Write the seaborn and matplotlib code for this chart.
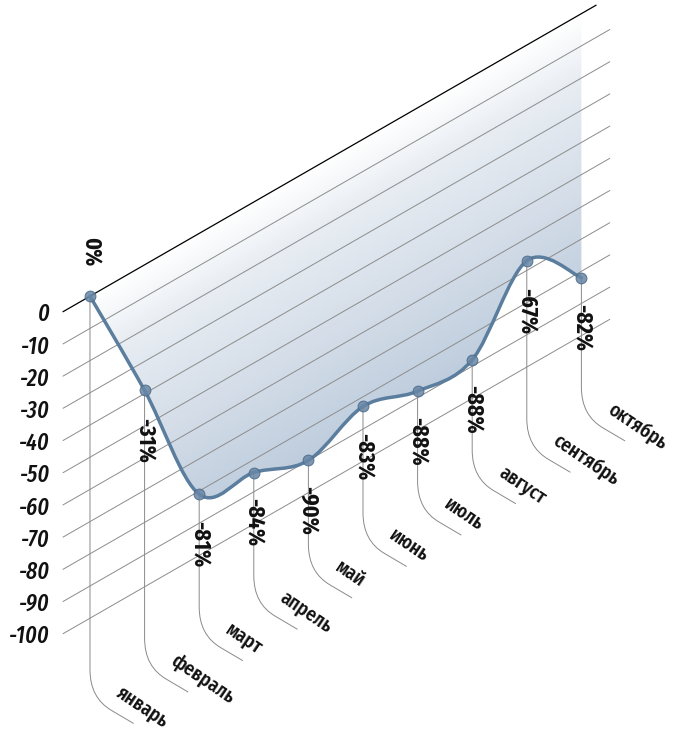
import numpy as np
import matplotlib
matplotlib.use('Agg')
import matplotlib.pyplot as plt
import matplotlib.transforms as mtransforms
from matplotlib.path import Path
from matplotlib.patches import PathPatch
from matplotlib.colors import LinearSegmentedColormap
import seaborn as sns

months = ['январь', 'февраль', 'март', 'апрель', 'май', 'июнь',
          'июль', 'август', 'сентябрь', 'октябрь']
values = [0, -39, -81, -84, -90, -83, -88, -88, -67, -82]
value_labels = ['0%', '-31%', '-81%', '-84%', '-90%', '-83%',
                '-88%', '-88%', '-67%', '-82%']
grid_values = [0, -10, -20, -30, -40, -50, -60, -70, -80, -90, -100]

sns.set_theme(style='white')
plt.rcParams['font.family'] = ['Fira Sans Extra Condensed', 'DejaVu Sans']

LINE = '#5b7d9e'
k = 9.75  # each month lifts the baseline by this many value units (isometric skew)
XLIM = (-1.648, 10.861)
YLIM = (-135.65, 91.99)

fig = plt.figure(figsize=(6.83, 7.33), dpi=100)
ax = fig.add_axes([0, 0, 1, 1])
ax.set_xlim(*XLIM)
ax.set_ylim(*YLIM)
ax.axis('off')

skew = mtransforms.Affine2D(np.array([[1, 0, 0], [k, 1, 0], [0, 0, 1]]))
tr = skew + ax.transData

x = np.arange(len(months))
pts = np.column_stack([x, values]).astype(float)

# smooth line: Catmull-Rom turned into cubic bezier segments
ext = np.vstack([pts[0], pts, pts[-1]])
verts = [pts[0]]
codes = [Path.MOVETO]
for i in range(len(pts) - 1):
    p0, p1, p2, p3 = ext[i], ext[i + 1], ext[i + 2], ext[i + 3]
    verts += [p1 + (p2 - p0) / 6, p2 - (p3 - p1) / 6, p2]
    codes += [Path.CURVE4] * 3
curve = Path(verts, codes)

# area between the 0 line and the curve, gradient by value
fill_path = Path(verts + [(x[-1], 0), (0, 0), (0, 0)],
                 codes + [Path.LINETO, Path.LINETO, Path.CLOSEPOLY])
clip = PathPatch(fill_path, transform=tr, facecolor='none', edgecolor='none')
ax.add_patch(clip)
cmap = LinearSegmentedColormap.from_list(
    'fill', [(0, '#b7c7d9'), (0.15, '#c1cfdf'), (0.45, '#d4dde8'),
             (0.8, '#e8edf3'), (1, '#ffffff')])
grad = np.linspace(0, 1, 256).reshape(-1, 1)
im = ax.imshow(grad, cmap=cmap, extent=(0, x[-1], -100, 0), origin='lower',
               aspect='auto', transform=tr, interpolation='bilinear', zorder=1)
im.set_clip_path(clip)
ax.set_xlim(*XLIM)
ax.set_ylim(*YLIM)

# grid lines + value scale
for g in grid_values:
    if g == 0:
        ax.plot([-0.494, 9.27], [g, g], color='black', lw=0.9, transform=tr, zorder=2)
    else:
        ax.plot([-0.494, 9.52], [g, g], color='#8c8c8c', lw=0.7, transform=tr, zorder=2)
    ax.text(-0.73, g + 1.4, str(g), transform=tr, ha='right', va='center',
            fontsize=17, style='italic', fontweight='medium', color='#111111')

# leader lines, month names and value labels
for i, v in enumerate(values):
    lv = [(i, v), (i, -116), (i, -124.8), (i + 0.4, -132.6), (i + 0.8, -140.5)]
    lc = [Path.MOVETO, Path.LINETO, Path.CURVE3, Path.CURVE3, Path.LINETO]
    ax.add_patch(PathPatch(Path(lv, lc), transform=tr, facecolor='none',
                           edgecolor='#8a8a8a', lw=0.7, zorder=2))
    ax.text(i + 0.52, -127.5, months[i], transform=tr, ha='left', va='center',
            rotation=-34, rotation_mode='anchor', fontsize=15,
            fontweight='medium', color='#111111')
    off = 13.7 if i == 0 else -15.5
    ax.text(i, v + off, value_labels[i], transform=tr, ha='center', va='center',
            rotation=-90, fontsize=17, fontweight='bold', color='#111111', zorder=5)

ax.add_patch(PathPatch(curve, transform=tr, facecolor='none', edgecolor=LINE,
                       lw=2.5, capstyle='round', joinstyle='round', zorder=3))
sns.scatterplot(x=x, y=values, ax=ax, transform=tr, s=60, color='#6886a5',
                edgecolor='#4d6d8c', linewidth=0.8, alpha=0.85, zorder=4, legend=False)
ax.set_xlim(*XLIM)
ax.set_ylim(*YLIM)

fig.savefig('out.png', dpi=100)
